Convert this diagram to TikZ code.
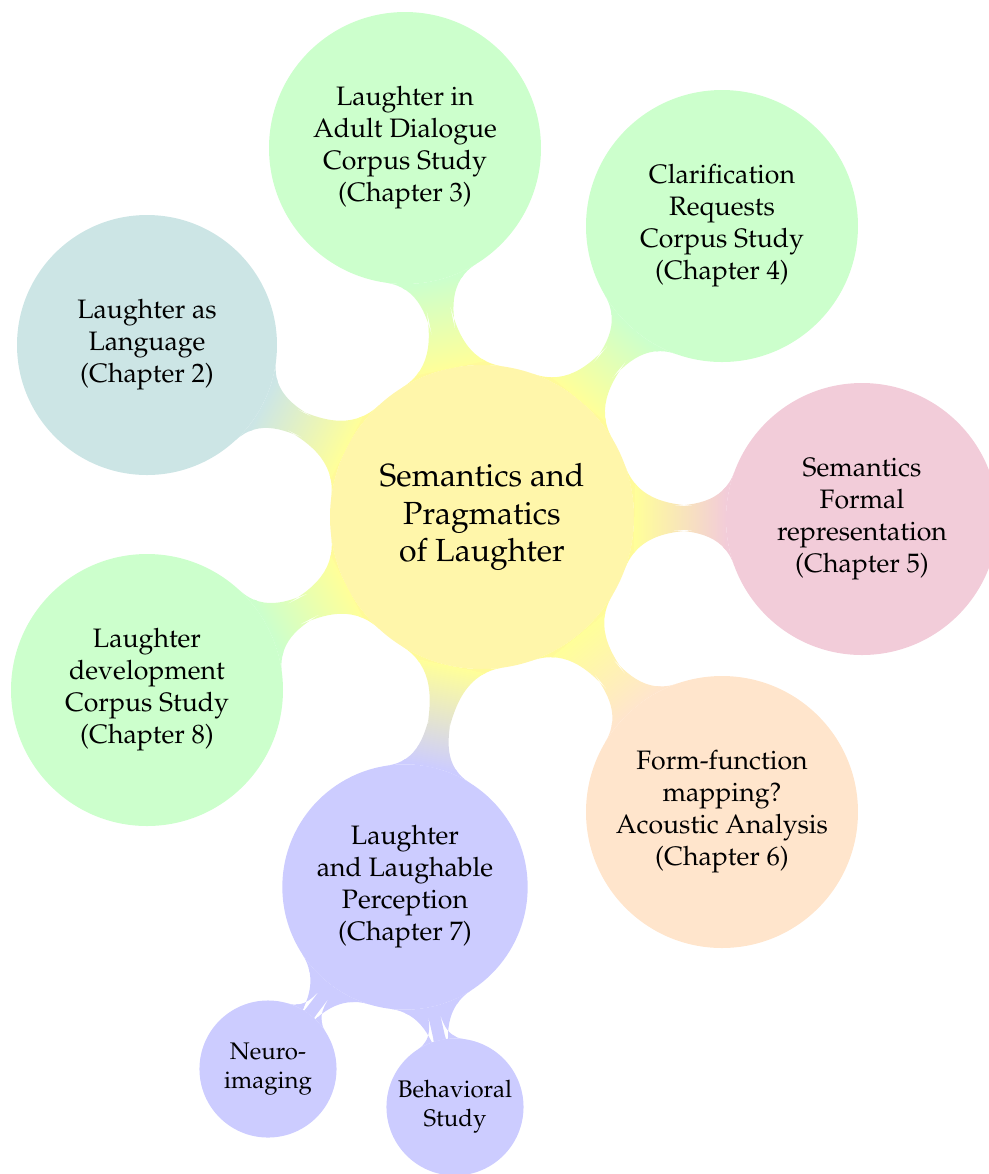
\documentclass[tikz,border=0pt]{standalone}
\usepackage[T1]{fontenc}
\usepackage{mathpazo}
\usetikzlibrary{mindmap}
\definecolor{rootcol}{RGB}{255,246,170}
\tikzset{
  rootbox/.style={concept, concept color=rootcol, fill=rootcol, draw=none, circle, minimum size=114pt, inner sep=0pt, text width=, align=center, font=\large},
  lvlone/.style={concept, concept color=#1, fill=#1, draw=none, circle, minimum size=102pt, inner sep=0pt, text width=, align=center, font=\normalsize},
  lvlmid/.style={concept, concept color=#1, fill=#1, draw=none, circle, minimum size=97.5pt, inner sep=0pt, text width=, align=center, font=\normalsize},
  lvlsmall/.style={concept, concept color=blue!20, fill=blue!20, draw=none, circle, minimum size=92pt, inner sep=0pt, text width=, align=center, font=\normalsize},
  lvltwo/.style={concept, concept color=blue!20, fill=blue!20, draw=none, circle, minimum size=51.4pt, inner sep=0pt, text width=, align=center, font=\small},
  bar/.style args={#1/#2}{circle connection bar switch color=from (#1) to (#2)}
}
\begin{document}
\begin{tikzpicture}[mindmap, x=0.375pt, y=-0.375pt]
\useasboundingbox (0,0) rectangle (989,1174);
\node[rootbox] (root) at (482,517) {Semantics and\\Pragmatics\\of Laughter};
\node[lvlone=green!20] (c3) at (405,148) {Laughter in\\Adult Dialogue\\Corpus Study\\(Chapter 3)};
\node[lvlone=green!20] (c4) at (722,226) {Clarification\\Requests\\Corpus Study\\(Chapter 4)};
\node[lvlmid=teal!20] (c2) at (147,345) {Laughter as\\Language\\(Chapter 2)};
\node[lvlone=purple!20] (c5) at (862,519) {Semantics\\Formal\\representation\\(Chapter 5)};
\node[lvlone=green!20] (c8) at (147,690) {Laughter\\development\\Corpus Study\\(Chapter 8)};
\node[lvlone=orange!20] (c6) at (722,812) {Form-function\\mapping?\\Acoustic Analysis\\(Chapter 6)};
\node[lvlsmall] (c7) at (405,887) {Laughter\\and Laughable\\Perception\\(Chapter 7)};
\node[lvltwo] (ni) at (268,1069) {Neuro-\\imaging};
\node[lvltwo] (bs) at (455,1107) {Behavioral\\Study};
\path (root) to[bar=yellow!40/green!20] (c3);
\path (root) to[bar=yellow!40/green!20] (c4);
\path (root) to[bar=yellow!40/teal!20] (c2);
\path (root) to[bar=yellow!40/purple!20] (c5);
\path (root) to[bar=yellow!40/green!20] (c8);
\path (root) to[bar=yellow!40/orange!20] (c6);
\path (root) to[bar=yellow!40/blue!20] (c7);
\path (c7) to[bar=blue!20/blue!20] (ni);
\path (c7) to[bar=blue!20/blue!20] (bs);
\end{tikzpicture}
\end{document}
